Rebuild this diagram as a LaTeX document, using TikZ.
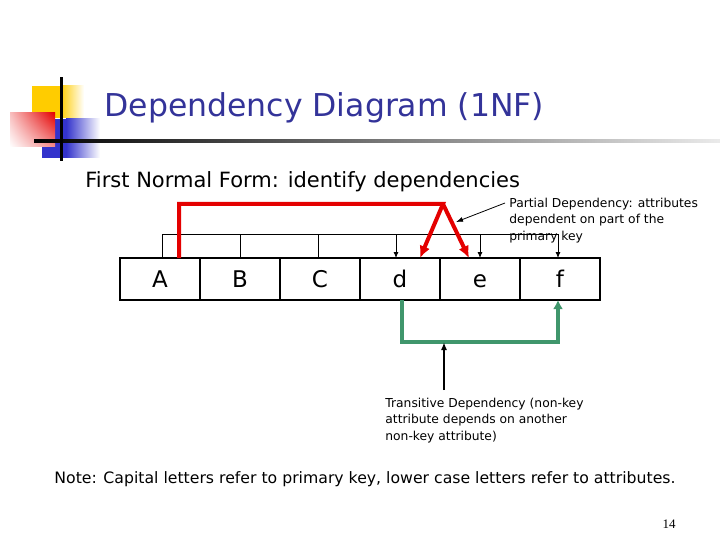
\documentclass[tikz,border=0pt]{standalone}
\usepackage{fontspec}
\setmainfont{DejaVu Sans}
\newfontfamily\numfont{Liberation Serif}
\usetikzlibrary{arrows.meta}
\usetikzlibrary{shadings}
\usepackage{xcolor}
\definecolor{titleblue}{RGB}{51,51,153}
\definecolor{keyred}{RGB}{228,0,0}
\definecolor{transgreen}{RGB}{64,150,108}
\definecolor{decoyellow}{RGB}{255,204,0}
\definecolor{decoblue}{RGB}{51,51,204}

\begin{document}
\begin{tikzpicture}[x=1pt,y=-1pt,thick,
  cell/.style={draw,line width=2.5pt,outer sep=0pt,inner sep=0pt,minimum width=80pt,minimum height=42pt,text height=17pt,text depth=0pt,font=\fontsize{23}{23}\selectfont},
  thinline/.style={line width=0.8pt},
  partline/.style={draw=keyred,line width=4pt},
  transline/.style={draw=transgreen,line width=4pt},
  deptext/.style={font=\fontsize{12.3}{16.5}\selectfont,align=left,inner sep=0pt,anchor=north west}]
\useasboundingbox (0,0) rectangle (720,540);

\fill[decoyellow] (32,86) rectangle (60,118);
\shade[left color=decoyellow,right color=white] (60,86) rectangle (84,118);
\fill[decoblue] (42,119) rectangle (66,158);
\shade[left color=decoblue,right color=white] (66,119) rectangle (100,158);
\shade[upper right=keyred,upper left=keyred!25,lower right=keyred!45,lower left=white] (10,113) rectangle (55,147);
\shade[left color=black,right color=black!8] (34,139.5) rectangle (720,142.5);
\fill (59.5,77) rectangle (62.5,161);

\node [anchor=base west,inner sep=0pt,text=titleblue,font=\fontsize{31.5}{36}\selectfont] (title) at (104,117) {Dependency Diagram (1NF)};
\node [anchor=base west,inner sep=0pt,font=\fontsize{21}{25}\selectfont] (subtitle) at (85,188) {First Normal Form: identify dependencies};

\node [cell] (keyA) at (160,279) {A};
\node [cell,right=0pt,at=(keyA.east)] (keyB) {B};
\node [cell,right=0pt,at=(keyB.east)] (keyC) {C};
\node [cell,right=0pt,at=(keyC.east)] (keyd) {d};
\node [cell,right=0pt,at=(keyd.east)] (keye) {e};
\node [cell,right=0pt,at=(keye.east)] (keyf) {f};

\node [deptext] (partial) at (509,197.5) {Partial Dependency: attributes\\dependent on part of the\\primary key};
\node [deptext] (trans) at (385,397.5) {Transitive Dependency (non-key\\attribute depends on another\\non-key attribute)};
\node [anchor=base west,inner sep=0pt,font=\fontsize{15.7}{19}\selectfont] (note) at (54,483) {Note: Capital letters refer to primary key, lower case letters refer to attributes.};
\node [anchor=base east,inner sep=0pt,font=\numfont\fontsize{13}{15}\selectfont] (page) at (676,528) {14};

\coordinate (bus) at (0,234);
\coordinate (apex) at (443,204);
\coordinate (parthit) at (456,222);
\coordinate (low) at (0,342);
\coordinate (greenhit) at (444,342);

\draw [thinline] ([xshift=2pt]keyA.north |- bus) -- ([xshift=-2pt]keyf.north |- bus);
\foreach \n/\s in {keyA/2,keyB/0,keyC/-2}
  \draw [thinline] ([xshift=\s pt]\n.north |- bus) -- ([xshift=\s pt]\n.north);
\foreach \n/\s in {keyd/-4,keye/0,keyf/-2}
  \draw [thinline,-{Latex[length=6pt,width=5pt]}] ([xshift=\s pt]\n.north |- bus) -- ([xshift=\s pt]\n.north);

\draw [partline,line join=miter,-{Latex[length=12pt,width=11pt]}] ([xshift=19pt]keyA.north) |- (apex) -- ([xshift=20pt]keyd.north);
\draw [partline,-{Latex[length=12pt,width=11pt]}] (apex) -- ([xshift=-11pt]keye.north);
\draw [thinline,-{Latex[length=7pt,width=5pt]}] ([shift={(-4,5.5)}]partial.north west) -- (parthit);

\draw [transline,-{Latex[length=9pt,width=10pt]}] ([xshift=2pt]keyd.south) |- ([xshift=-2pt]keyf.south |- low) -- ([xshift=-2pt]keyf.south);
\draw [line width=2pt,-{Latex[length=8pt,width=6pt]}] ([yshift=7.5pt]trans.north -| greenhit) -- (greenhit);
\end{tikzpicture}
\end{document}
